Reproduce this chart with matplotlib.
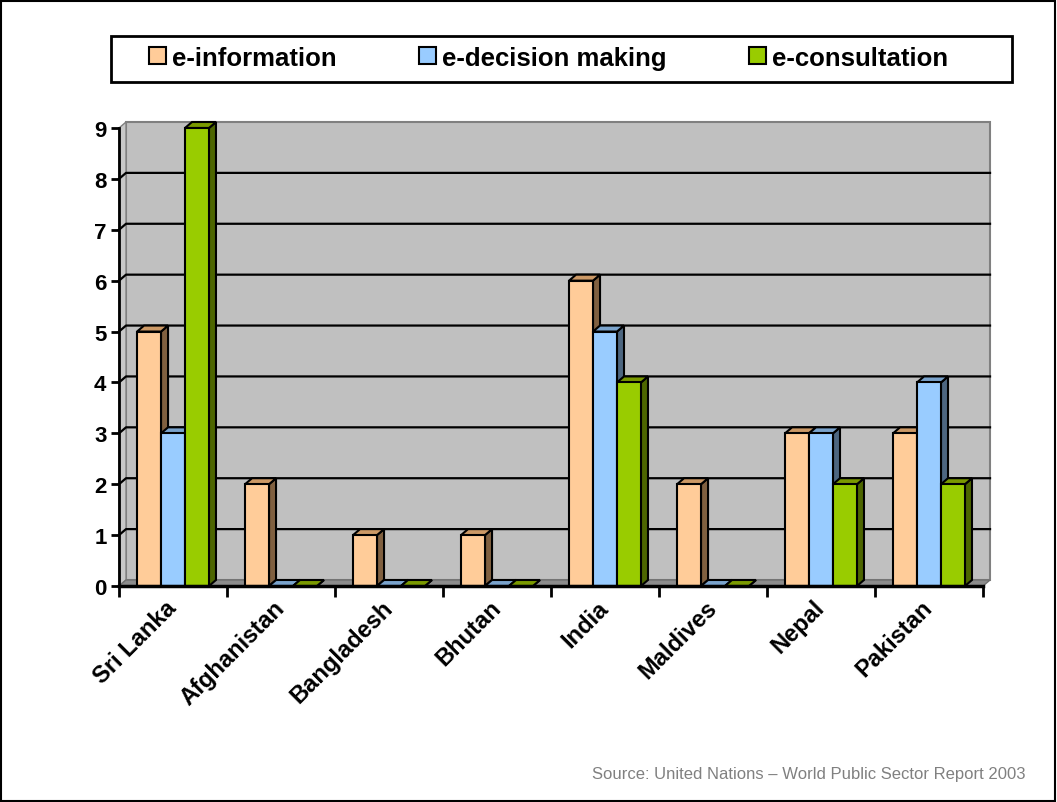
import matplotlib
matplotlib.use("Agg")
from matplotlib import pyplot as plt
from matplotlib.patches import Patch, Polygon, Rectangle
from matplotlib.transforms import ScaledTranslation

plt.rcParams['font.family'] = ['Liberation Sans', 'DejaVu Sans']

countries = ["Sri Lanka", "Afghanistan", "Bangladesh", "Bhutan",
             "India", "Maldives", "Nepal", "Pakistan"]
e_information = [5, 2, 1, 1, 6, 2, 3, 3]
e_decision = [3, 0, 0, 0, 5, 0, 3, 4]
e_consultation = [9, 0, 0, 0, 4, 0, 2, 2]
series_names = ["e-information", "e-decision making", "e-consultation"]

# front, top, side colours for each series
front_cols = ["#FFCC99", "#99CCFF", "#99CC00"]
top_cols = ["#CC9966", "#7AA3CC", "#7A9900"]
side_cols = ["#806040", "#4D6680", "#4D6600"]

fig = plt.figure(figsize=(10.57, 8.03), dpi=100)
ax = fig.add_axes([119/1057, 1-587/803, 864/1057, 458/803])

n = len(countries)
ymax = 9
dx, dy = 0.065, 0.118   # 3d depth in data units
bw = 0.222
x0, x1 = -0.5, n - 0.5

ax.set_xlim(x0, x1)
ax.set_ylim(0, ymax)
for s in ax.spines.values():
    s.set_visible(False)

# back wall, side wall, floor
ax.add_patch(Rectangle((x0+dx, dy), x1-x0, ymax, facecolor="#C0C0C0",
                       edgecolor="#808080", lw=1.5, clip_on=False, zorder=0))
ax.add_patch(Polygon([(x0, 0), (x0+dx, dy), (x0+dx, ymax+dy), (x0, ymax)],
                     facecolor="#C8C8C8", edgecolor="#808080", lw=1,
                     clip_on=False, zorder=0.5))
ax.add_patch(Polygon([(x0, 0), (x1, 0), (x1+dx, dy), (x0+dx, dy)],
                     facecolor="#8C8C8C", edgecolor="#707070", lw=1,
                     clip_on=False, zorder=0.5))
for v in range(1, ymax):
    ax.plot([x0, x0+dx, x1+dx], [v, v+dy, v+dy], color="black", lw=1.6,
            clip_on=False, zorder=0.8)

data = [e_information, e_decision, e_consultation]
offsets = [-bw, 0, bw]
z = 2
for i in range(n):
    for k in range(3):
        h = data[k][i]
        left = i + offsets[k] - bw/2
        right = left + bw
        ax.add_patch(Polygon([(right, 0), (right+dx, dy), (right+dx, h+dy), (right, h)],
                             facecolor=side_cols[k], edgecolor="black", lw=1.5,
                             clip_on=False, zorder=z))
        ax.add_patch(Polygon([(left, h), (right, h), (right+dx, h+dy), (left+dx, h+dy)],
                             facecolor=top_cols[k], edgecolor="black", lw=1.5,
                             clip_on=False, zorder=z))
        if h > 0:
            ax.bar(left, h, width=bw, align="edge", color=front_cols[k],
                   edgecolor="black", lw=1.5, zorder=z+0.5, clip_on=False)
        z += 1

# axes lines
ax.plot([x0, x0], [0, ymax], color="black", lw=2, clip_on=False, zorder=z+1)
ax.plot([x0, x1], [0, 0], color="black", lw=2.5, clip_on=False, zorder=z+1)

ax.set_yticks(range(0, ymax+1))
ax.tick_params(axis="y", length=6, width=2, labelsize=16, pad=3)
for t in ax.get_yticklabels():
    t.set_fontweight("bold")

ax.set_xticks([x0 + i for i in range(n+1)])
ax.set_xticklabels([])
ax.tick_params(axis="x", which="major", length=8, width=2)
ax.set_xticks(range(n), countries, minor=True)
ax.tick_params(axis="x", which="minor", length=0, labelsize=17, pad=7)
shift = ScaledTranslation(-8/100, 0, fig.dpi_scale_trans)
for t in ax.get_xticklabels(minor=True):
    t.set_fontweight("bold")
    t.set_rotation(45)
    t.set_ha("right")
    t.set_va("top")
    t.set_rotation_mode("anchor")
    t.set_transform(t.get_transform() + shift)

handles = [Patch(facecolor=c, edgecolor="black", lw=1.5) for c in front_cols]
leg = fig.legend(handles, series_names, loc="center", bbox_to_anchor=(0.519, 0.927),
                 ncol=3, frameon=False, borderpad=0.2, handlelength=0.66,
                 handleheight=0.66, handletextpad=0.25, columnspacing=3.2,
                 prop={"size": 18.5, "weight": "bold"})
fig.patches.append(Rectangle((111/1057, 1-83/803), 901/1057, 46/803,
                             transform=fig.transFigure, fill=False,
                             edgecolor="black", lw=2))

fig.text(0.970, 0.035, "Source: United Nations \u2013 World Public Sector Report 2003",
         ha="right", va="center", color="#808080", fontsize=12)

fig.patches.append(Rectangle((0.001, 0.001), 0.997, 0.997, transform=fig.transFigure,
                             fill=False, edgecolor="black", lw=1.5))

fig.savefig("out.png", dpi=100)
